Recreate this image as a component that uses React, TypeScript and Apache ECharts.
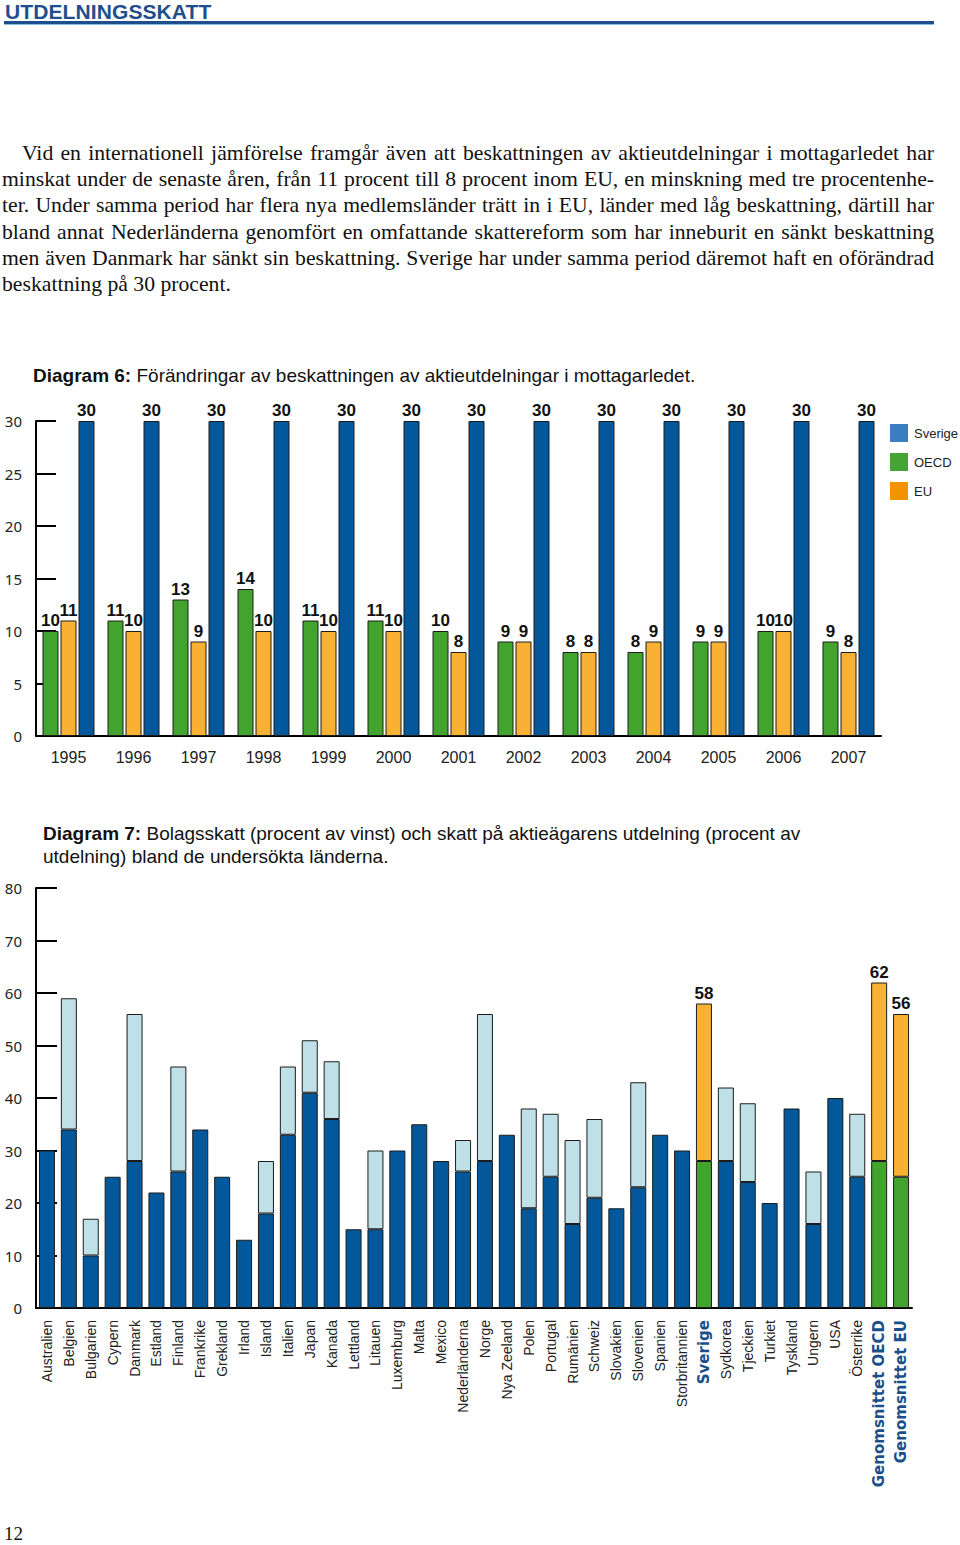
import React, { useEffect, useRef } from "react";
import * as echarts from "echarts";

// ---- Diagram 6 data ----
const years = ["1995", "1996", "1997", "1998", "1999", "2000", "2001", "2002", "2003", "2004", "2005", "2006", "2007"];
const oecd = [10, 11, 13, 14, 11, 11, 10, 9, 8, 8, 9, 10, 9];
const eu = [11, 10, 9, 10, 10, 10, 8, 9, 8, 9, 9, 10, 8];
const sverige = [30, 30, 30, 30, 30, 30, 30, 30, 30, 30, 30, 30, 30];
const ticks6 = [0, 5, 10, 15, 20, 25, 30];

// ---- Diagram 7 data ----
const countries = [
  "Australien", "Belgien", "Bulgarien", "Cypern", "Danmark", "Estland", "Finland", "Frankrike",
  "Grekland", "Irland", "Island", "Italien", "Japan", "Kanada", "Lettland", "Litauen", "Luxemburg",
  "Malta", "Mexico", "Nederländerna", "Norge", "Nya Zeeland", "Polen", "Portugal", "Rumänien",
  "Schweiz", "Slovakien", "Slovenien", "Spanien", "Storbritannien", "Sverige", "Sydkorea",
  "Tjeckien", "Turkiet", "Tyskland", "Ungern", "USA", "Österrike", "Genomsnittet OECD", "Genomsnittet EU",
];
const bolagsskatt = [
  30, 34, 10, 25, 28, 22, 26, 34, 25, 13, 18, 33, 41, 36, 15, 15, 30, 35, 28, 26, 28, 33, 19, 25, 16,
  21, 19, 23, 33, 30, 28, 28, 24, 20, 38, 16, 40, 25, 28, 25,
];
const utdelningsskatt: (number | null)[] = [
  null, 25, 7, null, 28, null, 20, null, null, null, 10, 13, 10, 11, null, 15, null, null, null, 6,
  28, null, 19, 12, 16, 15, null, 20, null, null, 30, 14, 15, null, null, 10, null, 12, 34, 31,
];
const highlighted = ["Sverige", "Genomsnittet OECD", "Genomsnittet EU"];
const ticks7 = [0, 10, 20, 30, 40, 50, 60, 70, 80];

const paragraphLines = [
  "Vid en internationell jämförelse framgår även att beskattningen av aktieutdelningar i mottagarledet har",
  "minskat under de senaste åren, från 11 procent till 8 procent inom EU, en minskning med tre procentenhe-",
  "ter. Under samma period har flera nya medlemsländer trätt in i EU, länder med låg beskattning, därtill har",
  "bland annat Nederländerna genomfört en omfattande skattereform som har inneburit en sänkt beskattning",
  "men även Danmark har sänkt sin beskattning. Sverige har under samma period däremot haft en oförändrad",
  "beskattning på 30 procent.",
];

const BLUE = "#03579b";
const LIGHT = "#bfe0e6";
const GREEN = "#42a42f";
const ORANGE = "#f8b133";
const OUTLINE = "#1c1c1c";
const NARROW = "'Liberation Sans Narrow', 'Liberation Sans', Arial, sans-serif";
const SANS = "'Liberation Sans', Arial, sans-serif";
const AXISFONT = "'Noto Sans', 'DejaVu Sans', sans-serif";

export default function App() {
  const ref = useRef<HTMLDivElement>(null);

  useEffect(() => {
    document.body.style.margin = "0";
    if (!ref.current) return;
    const chart = echarts.init(ref.current, undefined, { renderer: "svg" });

    const barLabel = {
      show: true,
      position: "top" as const,
      distance: 2,
      fontFamily: NARROW,
      fontWeight: "bold" as const,
      fontSize: 17,
      color: "#111",
    };

    const titleStyle = (lh: number) => ({
      fontFamily: SANS,
      fontSize: 19,
      fontWeight: "normal",
      color: "#111",
      lineHeight: lh,
      rich: { b: { fontFamily: SANS, fontSize: 19, fontWeight: "bold", color: "#111", lineHeight: lh } },
    });

    const option: any = {
      animation: false,
      backgroundColor: "#fff",
      title: [
        {
          text: "{b|Diagram 6:} Förändringar av beskattningen av aktieutdelningar i mottagarledet.",
          left: 33,
          top: 364,
          padding: 0,
          textStyle: titleStyle(22),
        },
        {
          text:
            "{b|Diagram 7:} Bolagsskatt (procent av vinst) och skatt på aktieägarens utdelning (procent av\nutdelning) bland de undersökta länderna.",
          left: 43,
          top: 822,
          padding: 0,
          textStyle: titleStyle(23),
        },
      ],
      legend: {
        orient: "vertical",
        left: 890,
        top: 424,
        padding: 0,
        itemWidth: 18,
        itemHeight: 18,
        itemGap: 11,
        icon: "rect",
        selectedMode: false,
        textStyle: { fontFamily: SANS, fontSize: 13, color: "#222", padding: [0, 0, 0, 1] },
        data: [
          { name: "Sverige", itemStyle: { color: "#3b7fc0", borderWidth: 0 } },
          { name: "OECD", itemStyle: { color: "#45a534", borderWidth: 0 } },
          { name: "EU", itemStyle: { color: "#f29400", borderWidth: 0 } },
        ],
      },
      grid: [
        { left: 36, top: 421, width: 845, height: 315 },
        { left: 36, top: 888, width: 876, height: 420 },
      ],
      xAxis: [
        {
          type: "category",
          gridIndex: 0,
          data: years,
          axisLine: { lineStyle: { color: "#000", width: 2 } },
          axisTick: { inside: true, length: 8, lineStyle: { color: "#000", width: 2 } },
          axisLabel: { fontFamily: SANS, fontSize: 16, color: "#222", margin: 13 },
        },
        {
          type: "category",
          gridIndex: 1,
          data: countries,
          axisLine: { lineStyle: { color: "#000", width: 2 } },
          axisTick: { inside: true, length: 9, lineStyle: { color: "#000", width: 2 } },
          axisLabel: {
            interval: 0,
            rotate: 90,
            margin: 12,
            fontFamily: SANS,
            fontSize: 14,
            color: "#222",
            formatter: (v: string) => (highlighted.includes(v) ? `{b|${v}}` : v),
            rich: {
              b: {
                fontFamily: "'DejaVu Sans', sans-serif",
                fontWeight: "bold",
                fontSize: 15,
                color: "#1a4f8a",
              },
            },
          },
        },
      ],
      yAxis: [
        {
          type: "value",
          gridIndex: 0,
          min: 0,
          max: 30,
          interval: 5,
          splitLine: { show: false },
          axisLine: { show: true, lineStyle: { color: "#000", width: 2 } },
          axisTick: { show: true, inside: true, length: 20, lineStyle: { color: "#000", width: 2 } },
          axisLabel: {
            fontFamily: AXISFONT,
            fontSize: 15,
            color: "#222",
            margin: 14,
            formatter: (v: number) => (ticks6.includes(v) ? String(v) : ""),
          },
        },
        {
          type: "value",
          gridIndex: 1,
          min: 0,
          max: 80,
          interval: 10,
          splitLine: { show: false },
          axisLine: { show: true, lineStyle: { color: "#000", width: 2 } },
          axisTick: { show: true, inside: true, length: 21, lineStyle: { color: "#000", width: 2 } },
          axisLabel: {
            fontFamily: AXISFONT,
            fontSize: 15,
            color: "#222",
            margin: 14,
            formatter: (v: number) => (ticks7.includes(v) ? String(v) : ""),
          },
        },
      ],
      series: [
        {
          name: "OECD",
          type: "bar",
          xAxisIndex: 0,
          yAxisIndex: 0,
          data: oecd,
          barWidth: 16,
          barGap: "12.5%",
          itemStyle: { color: GREEN, borderColor: OUTLINE, borderWidth: 1 },
          label: barLabel,
        },
        {
          name: "EU",
          type: "bar",
          xAxisIndex: 0,
          yAxisIndex: 0,
          data: eu,
          barWidth: 16,
          barGap: "12.5%",
          itemStyle: { color: ORANGE, borderColor: OUTLINE, borderWidth: 1 },
          label: barLabel,
        },
        {
          name: "Sverige",
          type: "bar",
          xAxisIndex: 0,
          yAxisIndex: 0,
          data: sverige,
          barWidth: 16,
          barGap: "12.5%",
          itemStyle: { color: BLUE, borderColor: OUTLINE, borderWidth: 1 },
          label: barLabel,
        },
        {
          name: "Bolagsskatt",
          type: "bar",
          xAxisIndex: 1,
          yAxisIndex: 1,
          stack: "total",
          barWidth: 16,
          data: bolagsskatt,
          itemStyle: {
            borderColor: OUTLINE,
            borderWidth: 1,
            color: (p: any) => (highlighted.includes(countries[p.dataIndex]) ? GREEN : BLUE),
          },
        },
        {
          name: "Utdelningsskatt",
          type: "bar",
          xAxisIndex: 1,
          yAxisIndex: 1,
          stack: "total",
          barWidth: 16,
          data: utdelningsskatt.map((v) => (v === null ? "-" : v)),
          itemStyle: {
            borderColor: OUTLINE,
            borderWidth: 1,
            color: (p: any) => (highlighted.includes(countries[p.dataIndex]) ? ORANGE : LIGHT),
          },
          label: {
            ...barLabel,
            formatter: (p: any) => {
              const i = p.dataIndex;
              if (!highlighted.includes(countries[i])) return "";
              return String(bolagsskatt[i] + (utdelningsskatt[i] || 0));
            },
          },
        },
      ],
    };

    chart.setOption(option);
    return () => chart.dispose();
  }, []);

  return (
    <div style={{ position: "relative", width: 960, height: 1545, background: "#fff", overflow: "hidden" }}>
      <div ref={ref} style={{ position: "absolute", left: 0, top: 0, width: 960, height: 1545 }} />
      <div style={{ position: "absolute", left: 4, top: 21, width: 930, height: 3, background: "#1f4e8c" }} />
      <div style={{ position: "absolute", left: 4, top: 24, width: 930, height: 1, background: "#8fbde3" }} />
      <div
        style={{
          position: "absolute",
          left: 5,
          top: 0,
          fontFamily: SANS,
          fontWeight: "bold",
          fontSize: 21,
          lineHeight: "23.5px",
          color: "#1f4e8c",
          whiteSpace: "nowrap",
          letterSpacing: "0.1px",
        }}
      >
        UTDELNINGSSKATT
      </div>
      <div
        style={{
          position: "absolute",
          left: 2,
          top: 140,
          width: 932,
          fontFamily: "'Liberation Serif', 'Times New Roman', serif",
          fontSize: 21.7,
          lineHeight: "26.2px",
          color: "#111",
        }}
      >
        {paragraphLines.map((line, i) => (
          <div
            key={i}
            style={{
              textAlign: "justify",
              textAlignLast: i < paragraphLines.length - 1 ? "justify" : "left",
              textIndent: i === 0 ? 20 : 0,
            }}
          >
            {line}
          </div>
        ))}
      </div>
      <div
        style={{
          position: "absolute",
          left: 4,
          top: 1523,
          fontFamily: "'Liberation Serif', 'Times New Roman', serif",
          fontSize: 19,
          color: "#111",
        }}
      >
        12
      </div>
    </div>
  );
}
